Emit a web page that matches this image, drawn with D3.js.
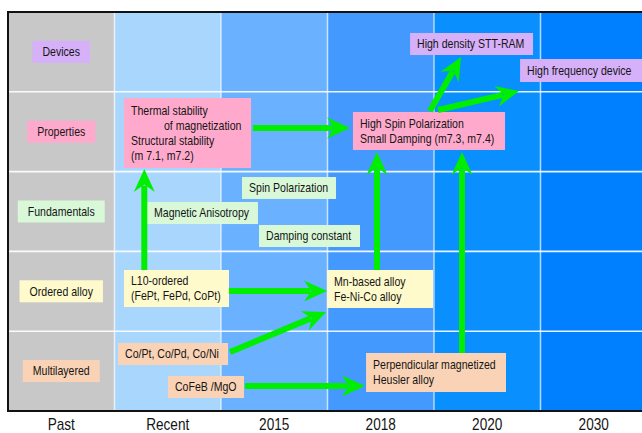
<!DOCTYPE html>
<html>
<head>
<meta charset="utf-8">
<script src="https://cdn.jsdelivr.net/npm/d3@7"></script>
<style>
  html, body { margin: 0; padding: 0; background: #fff; }
  svg { display: block; }
</style>
</head>
<body>
<svg id="chart" width="642" height="433"></svg>
<script>
// ---- data ----
const columns = ["Past", "Recent", "2015", "2018", "2020", "2030"];
const rows = ["Devices", "Properties", "Fundamentals", "Ordered alloy", "Multilayered"];
const columnColors = ["#c8c8c8", "#a8d6fd", "#6ab2ff", "#4499ff", "#0a8fff", "#0080ff"];
const rowKinds = ["device", "property", "fundamental", "ordered", "multi"];
const kindColors = {
  device: "#d6b0f8",
  property: "#ffaacc",
  fundamental: "#d8f8d8",
  ordered: "#fffacc",
  multi: "#fad3b6"
};

// boxes in column/row units: [x0, x1, y0, y1]
const boxes = [
  { kind: "property", lines: ["Thermal stability", "of magnetization", "Structural stability", "(m 7.1, m7.2)"], indent: [0, 33, 0, 0], ext: [1.089, 2.282, 1.078, 1.955] },
  { kind: "fundamental", lines: ["Spin Polarization"], ext: [2.197, 3.080, 2.068, 2.343] },
  { kind: "fundamental", lines: ["Magnetic Anisotropy"], ext: [1.305, 2.347, 2.381, 2.657] },
  { kind: "fundamental", lines: ["Damping constant"], ext: [2.357, 3.305, 2.669, 2.945] },
  { kind: "device", lines: ["High density STT-RAM"], ext: [3.775, 4.930, 0.263, 0.539] },
  { kind: "device", lines: ["High frequency device"], ext: [4.808, 5.953, 0.589, 0.877] },
  { kind: "property", lines: ["High Spin Polarization", "Small Damping (m7.3, m7.4)"], ext: [3.239, 4.667, 1.253, 1.729] },
  { kind: "ordered", lines: ["L10-ordered", "(FePt, FePd, CoPt)"], ext: [1.089, 2.075, 3.233, 3.697] },
  { kind: "multi", lines: ["Co/Pt, Co/Pd, Co/Ni"], ext: [1.033, 2.066, 4.148, 4.424] },
  { kind: "multi", lines: ["CoFeB /MgO"], ext: [1.502, 2.216, 4.561, 4.837] },
  { kind: "ordered", lines: ["Mn-based alloy", "Fe-Ni-Co alloy"], ext: [2.995, 3.991, 3.233, 3.709] },
  { kind: "multi", lines: ["Perpendicular magnetized", "Heusler alloy"], ext: [3.362, 4.676, 4.273, 4.762] }
];

// arrows in column/row units: [u0, v0, u1, v1]
const arrows = [
  [1.28, 3.233, 1.28, 1.967],
  [2.300, 1.454, 3.211, 1.454],
  [2.075, 3.496, 2.995, 3.496],
  [2.085, 4.261, 2.986, 3.759],
  [2.225, 4.687, 3.352, 4.687],
  [3.465, 3.233, 3.465, 1.754],
  [4.263, 4.273, 4.263, 1.754],
  [3.962, 1.241, 4.254, 0.564],
  [4.038, 1.228, 4.798, 0.990]
];

// ---- drawing ----
const svg = d3.select("#chart");
const x = d3.scaleLinear().domain([0, columns.length]).range([8, 647]);
const y = d3.scaleLinear().domain([0, rows.length]).range([12, 411]);
const FONT = "'Liberation Sans', Arial, Helvetica, sans-serif";
const textColor = "#151515";
const R = 0.88;   // horizontal condensing of the box text
const RA = 0.85;  // horizontal condensing of the column labels

// place a condensed text; returns its rendered width
function placeText(parent, str, size, ratio, xpos, ypos, align) {
  const t = parent.append("text").text(str)
    .attr("font-family", FONT).attr("font-size", size).attr("fill", textColor)
    .attr("x", 0).attr("y", 0);
  const w = t.node().getComputedTextLength() * ratio;
  const left = align === "middle" ? xpos - w / 2 : xpos;
  t.attr("transform", `translate(${left},${ypos}) scale(${ratio},1)`);
  return w;
}

// column backgrounds
svg.append("g").selectAll("rect").data(columns).join("rect")
  .attr("x", (d, i) => x(i)).attr("y", y(0))
  .attr("width", x(1) - x(0)).attr("height", y(rows.length) - y(0))
  .attr("fill", (d, i) => columnColors[i]);

// grid lines
const grid = svg.append("g").attr("stroke", "#ffffff").attr("stroke-width", 1.6);
grid.selectAll("line.v").data(d3.range(1, columns.length)).join("line")
  .attr("class", "v")
  .attr("x1", d => x(d)).attr("x2", d => x(d))
  .attr("y1", y(0)).attr("y2", y(rows.length))
  .attr("stroke-opacity", 0.6);
grid.selectAll("line.h").data(d3.range(1, rows.length)).join("line")
  .attr("class", "h")
  .attr("x1", x(0)).attr("x2", x(columns.length))
  .attr("y1", d => y(d)).attr("y2", d => y(d))
  .attr("stroke-opacity", 0.9);

// frame
const frame = svg.append("g").attr("stroke", "#111").attr("stroke-width", 2);
frame.append("line").attr("x1", x(0)).attr("x2", 642).attr("y1", y(0)).attr("y2", y(0));
frame.append("line").attr("x1", x(0)).attr("x2", 642).attr("y1", y(rows.length)).attr("y2", y(rows.length));
frame.append("line").attr("x1", x(0)).attr("x2", x(0)).attr("y1", y(0) - 1).attr("y2", y(rows.length) + 1);

// row labels (centered in Past column)
const rl = svg.append("g").selectAll("g").data(rows).join("g");
rl.each(function (d, i) {
  const g = d3.select(this);
  const cx = (x(0) + x(1)) / 2;
  const cy = (y(i) + y(i + 1)) / 2;
  const rect = g.append("rect").attr("fill", kindColors[rowKinds[i]]);
  const w = placeText(g, d, 12, R, cx, cy + 4.3, "middle");
  rect.attr("x", cx - w / 2 - 10).attr("y", cy - 11)
    .attr("width", w + 20).attr("height", 22);
});

// content boxes
const bg = svg.append("g").selectAll("g").data(boxes).join("g");
bg.each(function (b) {
  const g = d3.select(this);
  const [u0, u1, v0, v1] = b.ext;
  const X0 = x(u0), X1 = x(u1), Y0 = y(v0), Y1 = y(v1);
  g.append("rect")
    .attr("x", X0).attr("y", Y0).attr("width", X1 - X0).attr("height", Y1 - Y0)
    .attr("fill", kindColors[b.kind]);
  if (b.lines.length === 1) {
    // measure first, then position
    const probe = g.append("text").text(b.lines[0])
      .attr("font-family", FONT).attr("font-size", 12);
    const w = probe.node().getComputedTextLength() * R;
    probe.remove();
    const left = Math.min((X0 + X1) / 2 - w / 2, X0 + 7);
    placeText(g, b.lines[0], 12, R, left, (Y0 + Y1) / 2 + 4.3, "start");
  } else {
    const n = b.lines.length;
    const spacing = 15.2;
    const mid = (Y0 + Y1) / 2;
    b.lines.forEach((line, k) => {
      placeText(g, line, 12, R, X0 + 7 + (b.indent ? b.indent[k] : 0),
        mid + (k - (n - 1) / 2) * spacing + 4.3, "start");
    });
  }
});

// arrows
const green = "#00ee00";
const ag = svg.append("g");
arrows.forEach(a => {
  const x0 = x(a[0]), y0 = y(a[1]), x1 = x(a[2]), y1 = y(a[3]);
  const dx = x1 - x0, dy = y1 - y0;
  const len = Math.hypot(dx, dy);
  const ux = dx / len, uy = dy / len;
  const px = -uy, py = ux;
  const L = 23, W = 10.5, notch = 0.68 * L;
  ag.append("line")
    .attr("x1", x0).attr("y1", y0)
    .attr("x2", x1 - ux * (notch + 1)).attr("y2", y1 - uy * (notch + 1))
    .attr("stroke", green).attr("stroke-width", 6);
  const pts = [
    [x1, y1],
    [x1 - ux * L + px * W, y1 - uy * L + py * W],
    [x1 - ux * notch, y1 - uy * notch],
    [x1 - ux * L - px * W, y1 - uy * L - py * W]
  ];
  ag.append("path").attr("d", d3.line()(pts) + "Z").attr("fill", green);
});

// column labels
const cg = svg.append("g");
columns.forEach((c, i) => {
  placeText(cg, c, 16, RA, (x(i) + x(i + 1)) / 2, 430, "middle");
});
</script>
</body>
</html>
